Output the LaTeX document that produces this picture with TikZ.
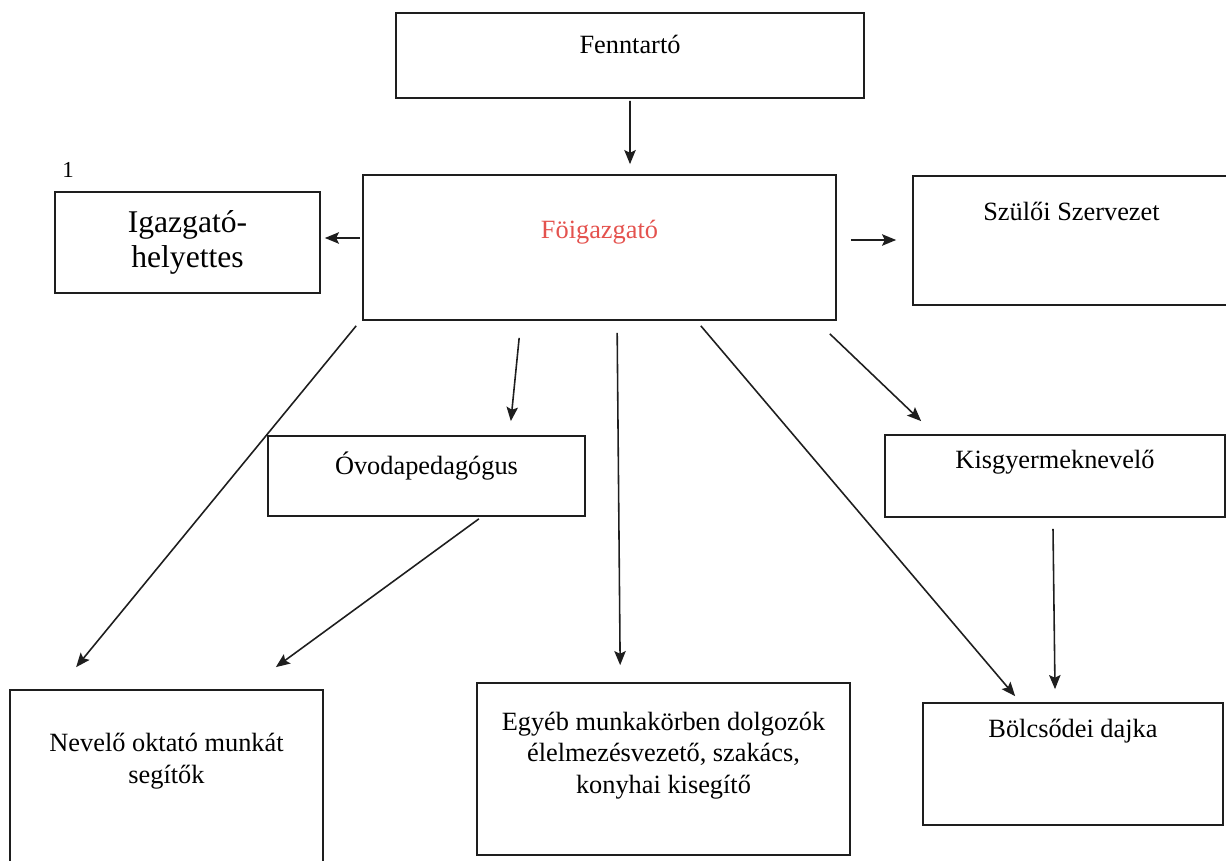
\documentclass[tikz,border=0pt]{standalone}
\usepackage{fontspec}
\setmainfont{Liberation Serif}
\usepackage{tikz}
\usetikzlibrary{arrows.meta,positioning}
\usepackage{xcolor}
\definecolor{ink}{RGB}{30,30,30}
\definecolor{fored}{RGB}{228,82,78}
\tikzstyle{unit} = [rectangle, draw=ink, line width=1pt, inner sep=0pt]
\tikzstyle{arrow} = [line width=0.9pt, ->, >={Stealth[length=8pt,width=6.5pt,inset=1.5pt]}, color=ink]
\tikzstyle{txt} = [font=\fontsize{15}{18}\selectfont, align=center, anchor=center]

\begin{document}
\begin{tikzpicture}[x=0.02cm, y=-0.02cm]
\useasboundingbox (0,0) rectangle (1226,861);

% Top level
\node[unit, minimum width=9.36cm, minimum height=1.7cm, label={[txt, yshift=-0.64cm]north:Fenntartó}] (fenn) at (630,55.5) {};

% Director and side boxes
\node[unit, minimum width=9.46cm, minimum height=2.9cm, label={[txt, text=fored, yshift=-1.16cm]north:Föigazgató}] (fo) at (599.5,247.5) {};
\node[unit, minimum width=5.3cm, minimum height=2.02cm, font=\fontsize{18}{20}\selectfont, align=center] (igh) at (187.5,242.5) {Igazgató-\\helyettes};
\node[unit, minimum width=6.34cm, minimum height=2.58cm, label={[txt, yshift=-0.72cm]north:Szülői Szervezet}] (szul) at (1071.5,240.5) {};
\node[txt, font=\fontsize{13}{15}\selectfont] (num) at (68,170) {1};

% Middle row
\node[unit, minimum width=6.34cm, minimum height=1.6cm, label={[txt, yshift=-0.62cm]north:Óvodapedagógus}] (ovp) at (426.5,476) {};
\node[unit, minimum width=6.8cm, minimum height=1.64cm, label={[txt, yshift=-0.56cm]north:Kisgyermeknevelő}] (kisgy) at (1055,476) {};

% Bottom row
\node[unit, minimum width=6.26cm, minimum height=3.6cm, label={[txt, yshift=-1.44cm]north:{Nevelő oktató munkát\\segítők}}] (nev) at (166.5,780) {};
\node[unit, minimum width=7.46cm, minimum height=3.44cm, label={[txt, yshift=-1.47cm]north:{Egyéb munkakörben dolgozók\\élelmezésvezető, szakács,\\konyhai kisegítő}}] (egy) at (663.5,769) {};
\node[unit, minimum width=6cm, minimum height=2.44cm, label={[txt, yshift=-0.58cm]north:Bölcsődei dajka}] (bolcs) at (1073,764) {};

% Arrows
\draw[arrow] ([shift={(0,2)}]fenn.south) -- ([shift={(30.5,-10)}]fo.north);
\draw[arrow] ([shift={(-2,-9.5)}]fo.west) -- ([shift={(4,-4.5)}]igh.east);
\draw[arrow] ([shift={(14,-7.5)}]fo.east) -- ([shift={(-16,-0.5)}]szul.west);
\draw[arrow] ([shift={(-6,5)}]fo.south west) -- ([shift={(67,-22)}]nev.north west);
\draw[arrow] ([shift={(157,17)}]fo.south west) -- ([shift={(-75,-14)}]ovp.north east);
\draw[arrow] ([shift={(255,12)}]fo.south west) -- ([shift={(144,-17)}]egy.north west);
\draw[arrow] ([shift={(-136,5)}]fo.south east) -- ([shift={(93,-6)}]bolcs.north west);
\draw[arrow] ([shift={(-7,13)}]fo.south east) -- ([shift={(37,-13)}]kisgy.north west);
\draw[arrow] ([shift={(-107,2)}]ovp.south east) -- ([shift={(-48,-22)}]nev.north east);
\draw[arrow] ([shift={(-2,11)}]kisgy.south) -- ([shift={(-18,-13)}]bolcs.north);
\end{tikzpicture}
\end{document}
